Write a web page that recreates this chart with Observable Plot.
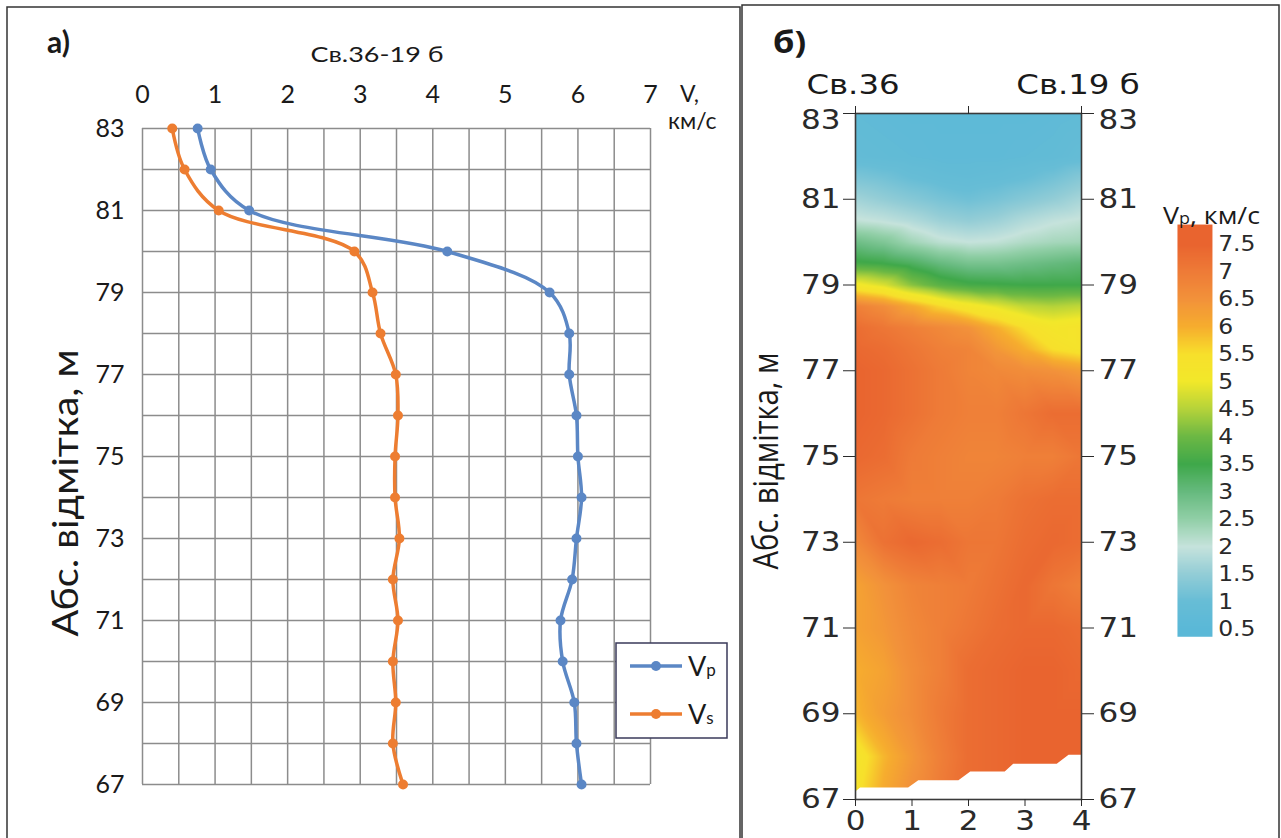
<!DOCTYPE html>
<html><head><meta charset="utf-8">
<script src="https://cdn.jsdelivr.net/npm/d3@7"></script>
<script src="https://cdn.jsdelivr.net/npm/@observablehq/plot@0.6"></script>
<style>
body{margin:0;background:#fff;}
#root{position:relative;width:1281px;height:838px;overflow:hidden;background:#fff;}
.abs{position:absolute;top:0;}
</style></head><body><div id="root"></div>
<script>
// ---------- panel a) : velocity profiles ----------
const depth = [83,82,81,80,79,78,77,76,75,74,73,72,71,70,69,68,67];
const vp    = [0.76,0.94,1.47,4.2,5.61,5.88,5.88,5.98,6.0,6.05,5.98,5.92,5.76,5.79,5.95,5.98,6.05];
const vs    = [0.41,0.58,1.05,2.92,3.17,3.28,3.49,3.52,3.48,3.48,3.54,3.45,3.52,3.45,3.49,3.45,3.59];
const seriesNames  = ["Vp","Vs"];
const seriesColors = ["#5b87c5","#ed7d31"];
const xTicksA = [0,1,2,3,4,5,6,7];
const xGridA  = [0,0.5,1,1.5,2,2.5,3,3.5,4,4.5,5,5.5,6,6.5,7];
const yGridA  = [67,68,69,70,71,72,73,74,75,76,77,78,79,80,81,82,83];
const yTicks  = [83,81,79,77,75,73,71,69,67];

// ---------- panel б) : Vp section between wells ----------
const hx = [0,0.5,1,1.5,2,2.5,3,3.5,4];
const hy = [83,82,81.5,81,80.5,80,79.5,79,78.5,78,77.5,77,76,75,74,73,72,71,70,69,68,67];
const hv = [
  [0.75,0.7,0.65,0.65,0.65,0.65,0.65,0.7,0.75],
  [0.85,0.8,0.75,0.7,0.7,0.7,0.75,0.8,0.9],
  [1.25,1.15,1.0,0.9,0.85,0.9,1.0,1.15,1.35],
  [1.65,1.5,1.35,1.2,1.1,1.2,1.35,1.5,1.7],
  [2.05,1.95,1.8,1.6,1.5,1.6,1.8,1.95,2.05],
  [2.9,2.7,2.35,2.1,2.0,2.05,2.2,2.3,2.35],
  [3.6,3.5,3.3,3.0,2.8,2.8,2.9,3.0,3.1],
  [5.1,4.8,4.2,3.8,3.6,3.55,3.5,3.5,3.5],
  [6.9,6.6,6.1,5.6,5.2,4.9,4.6,4.5,4.6],
  [7.3,7.1,6.9,6.7,6.5,6.0,5.5,5.2,5.3],
  [7.4,7.3,7.1,6.9,6.8,6.4,6.0,5.5,5.3],
  [7.5,7.4,7.2,7.0,6.8,6.7,6.6,6.5,6.3],
  [7.5,7.4,7.2,7.0,6.9,6.9,7.1,7.3,7.3],
  [7.4,7.3,7.0,6.9,6.8,6.8,6.9,6.9,7.1],
  [7.1,7.0,6.9,6.9,6.9,7.0,7.2,7.3,7.3],
  [6.7,7.2,7.4,7.3,7.1,7.1,7.3,7.4,7.3],
  [6.2,6.5,6.8,6.9,7.0,7.2,7.4,7.1,6.9],
  [6.2,6.4,6.7,6.9,7.1,7.3,7.4,7.4,7.3],
  [6.0,6.2,6.6,6.9,7.3,7.4,7.5,7.5,7.4],
  [5.9,6.3,6.6,7.0,7.3,7.4,7.5,7.5,7.5],
  [5.2,5.9,6.4,6.9,7.3,7.4,7.5,7.5,7.5],
  [5.4,6.1,6.6,7.0,7.3,7.4,7.5,7.5,7.5]
];
const cutX = [0,0.09,0.94,1.12,1.83,2.04,2.65,2.8,3.57,3.78,4];
const cutY = [67.17,67.27,67.27,67.44,67.44,67.64,67.64,67.82,67.82,68.03,68.03];
const xTicksB = [0,1,2,3,4];
const xTopTicksB = [0,2,4];
const legendValues = [0.5,1,1.5,2,2.5,3,3.5,4,4.5,5,5.5,6,6.5,7,7.5];
const legendColors = ["#5ab8d7","#67bdd6","#93cdd6","#c6e3dc","#91cfa7","#66ba7e","#3fa84a","#6cb844","#b5d33a","#f2e82a","#f7e02b","#f6ad2e","#f2923a","#ee7b37","#e9642f"];
const barDomain = [0.36,7.86];

// ---------- helpers ----------
const root = document.getElementById("root");
const fmt = d => String(d);
function place(el, left, top){
  const d = document.createElement("div");
  d.className = "abs"; d.style.left = left + "px"; d.style.top = top + "px";
  d.appendChild(el); root.appendChild(d); return d;
}
function stretchLabels(svg, sx){
  svg.querySelectorAll('g[aria-label$="tick label"] text').forEach(t => {
    let tr = (t.getAttribute("transform") || "") + ` scale(${sx},1)`;
    if (t.closest('g[aria-label="y-axis tick label"]') && t.textContent === "83") tr += " translate(0,7)";
    t.setAttribute("transform", tr);
  });
}

// ---------- plot a ----------
const rowsP = depth.map((d,i) => ({depth:d, v:vp[i]}));
const rowsS = depth.map((d,i) => ({depth:d, v:vs[i]}));
const plotA = Plot.plot({
  width:740, height:838, marginLeft:142, marginRight:90, marginTop:128, marginBottom:54,
  x:{domain:[0,7], label:null},
  y:{domain:[67,83], label:null},
  style:{fontFamily:"Lato, 'Open Sans', sans-serif", fontSize:"25px", color:"#1a1a1a", background:"transparent"},
  marks:[
    Plot.ruleX(xGridA, {y1:67, y2:83, stroke:"#8c8c8c", strokeWidth:1.5}),
    Plot.ruleY(yGridA, {x1:0, x2:7, stroke:"#8c8c8c", strokeWidth:1.5}),
    Plot.axisX({anchor:"top", ticks:xTicksA, tickSize:0, tickPadding:26, tickFormat:fmt, label:null}),
    Plot.axisY({anchor:"left", ticks:yTicks, tickSize:0, tickPadding:18, tickFormat:fmt, label:null}),
    Plot.line(rowsS, {x:"v", y:"depth", stroke:seriesColors[1], strokeWidth:3.5, curve:"catmull-rom"}),
    Plot.dot(rowsS, {x:"v", y:"depth", fill:seriesColors[1], r:5}),
    Plot.line(rowsP, {x:"v", y:"depth", stroke:seriesColors[0], strokeWidth:3.5, curve:"catmull-rom"}),
    Plot.dot(rowsP, {x:"v", y:"depth", fill:seriesColors[0], r:5})
  ]
});
place(plotA, 0, 0);

// ---------- plot b ----------
const cells = [];
hy.forEach((y,j) => hx.forEach((x,i) => cells.push({x, y, v:hv[j][i]})));
const cut = cutX.map((x,i) => ({x, y:cutY[i]}));
const colorScale = {type:"linear", domain:legendValues, range:legendColors, clamp:true};
const plotB = Plot.plot({
  width:420, height:838, marginLeft:115, marginRight:79, marginTop:113, marginBottom:39,
  x:{domain:[0,4], label:null},
  y:{domain:[67,83], label:null},
  color:colorScale,
  style:{fontFamily:"'DejaVu Sans', Verdana, sans-serif", fontSize:"27px", color:"#2a2a2a", background:"transparent"},
  marks:[
    Plot.raster(cells, {x:"x", y:"y", fill:"v", interpolate:"barycentric", pixelSize:1, x1:0, x2:4, y1:67, y2:83}),
    Plot.areaY(cut, {x:"x", y1:67, y2:"y", fill:"white"}),
    Plot.frame({stroke:"#3a3a3a", strokeWidth:1.6}),
    Plot.axisY({anchor:"left", ticks:yTicks, tickSize:12, tickPadding:3, tickFormat:fmt, label:null}),
    Plot.axisY({anchor:"right", ticks:yTicks, tickSize:12, tickPadding:5, tickFormat:fmt, label:null}),
    Plot.axisX({anchor:"bottom", ticks:xTicksB, tickSize:7, tickPadding:4, tickFormat:fmt, label:null}),
    Plot.axisX({anchor:"top", ticks:xTopTicksB, tickSize:8, tickFormat:() => "", label:null})
  ]
});
stretchLabels(plotB, 1.15);
place(plotB, 740, 0);

// ---------- colour bar ----------
const bar = Plot.plot({
  width:110, height:838, marginLeft:0, marginRight:73, marginTop:237, marginBottom:165,
  x:{domain:[0,1], axis:null},
  y:{domain:barDomain, label:null},
  color:colorScale,
  style:{fontFamily:"'DejaVu Sans', Verdana, sans-serif", fontSize:"23px", color:"#2a2a2a", background:"transparent"},
  marks:[
    Plot.raster({x1:0, x2:1, y1:barDomain[0], y2:barDomain[1], fill:(x,y) => y, pixelSize:1}),
    Plot.axisY({anchor:"right", ticks:legendValues, tickSize:0, tickPadding:6, tickFormat:fmt, label:null})
  ]
});
bar.querySelectorAll('g[aria-label$="tick label"] text').forEach(t => {
  t.setAttribute("transform", (t.getAttribute("transform") || "") + " scale(1.08,1)");
});
place(bar, 1177, 0);

// ---------- annotations overlay ----------
const legendRows = seriesNames.map((n,i) => {
  const y = 666 + i*48;
  return `<line x1="630" x2="682" y1="${y}" y2="${y}" stroke="${seriesColors[i]}" stroke-width="3.5"/>
  <circle cx="656" cy="${y}" r="5" fill="${seriesColors[i]}"/>
  <text x="688" y="${y+10}" font-size="27">${n[0]}<tspan font-size="17">${n.slice(1).toLowerCase()}</tspan></text>`;
}).join("");
const overlay = `
<svg width="1281" height="838" style="position:absolute;left:0;top:0;pointer-events:none" xmlns="http://www.w3.org/2000/svg">
  <rect x="7" y="7" width="733" height="900" fill="none" stroke="#333" stroke-width="1.5"/>
  <rect x="742" y="5" width="537" height="900" fill="none" stroke="#333" stroke-width="1.5"/>
  <g font-family="Lato, 'Open Sans', sans-serif" fill="#1a1a1a">
    <text x="47" y="53" font-size="30" font-weight="bold">а)</text>
    <text x="377" y="62" font-size="21" text-anchor="middle" textLength="133" lengthAdjust="spacingAndGlyphs">Св.36-19 б</text>
    <text x="680" y="102" font-size="23">V,</text>
    <text x="668" y="129" font-size="23">км/с</text>
    <text transform="translate(78,493) rotate(-90)" font-size="37" text-anchor="middle" textLength="287" lengthAdjust="spacingAndGlyphs">Абс. відмітка, м</text>
    <rect x="616" y="643" width="111" height="95" fill="#fff" stroke="#3a3a5a" stroke-width="1.5"/>
    ${legendRows}
  </g>
  <g fill="#1a1a1a">
    <text transform="translate(773,53) scale(1.15,1)" font-family="'Open Sans', sans-serif" font-size="30" font-weight="bold">б)</text>
    <text transform="translate(853,94) scale(1.2,1)" font-family="'DejaVu Sans', sans-serif" font-size="27" text-anchor="middle">Св.36</text>
    <text transform="translate(1078,94) scale(1.2,1)" font-family="'DejaVu Sans', sans-serif" font-size="27" text-anchor="middle">Св.19 б</text>
    <text transform="translate(778,461) rotate(-90) scale(1,1.25)" font-family="'Open Sans', sans-serif" font-size="27" text-anchor="middle" textLength="217" lengthAdjust="spacingAndGlyphs">Абс. відмітка, м</text>
    <text x="1163" y="224" font-family="'Open Sans', sans-serif" font-size="24" textLength="97" lengthAdjust="spacingAndGlyphs">V<tspan font-size="16">p</tspan>, км/с</text>
  </g>
</svg>`;
root.insertAdjacentHTML("beforeend", overlay);
</script>
</body></html>
